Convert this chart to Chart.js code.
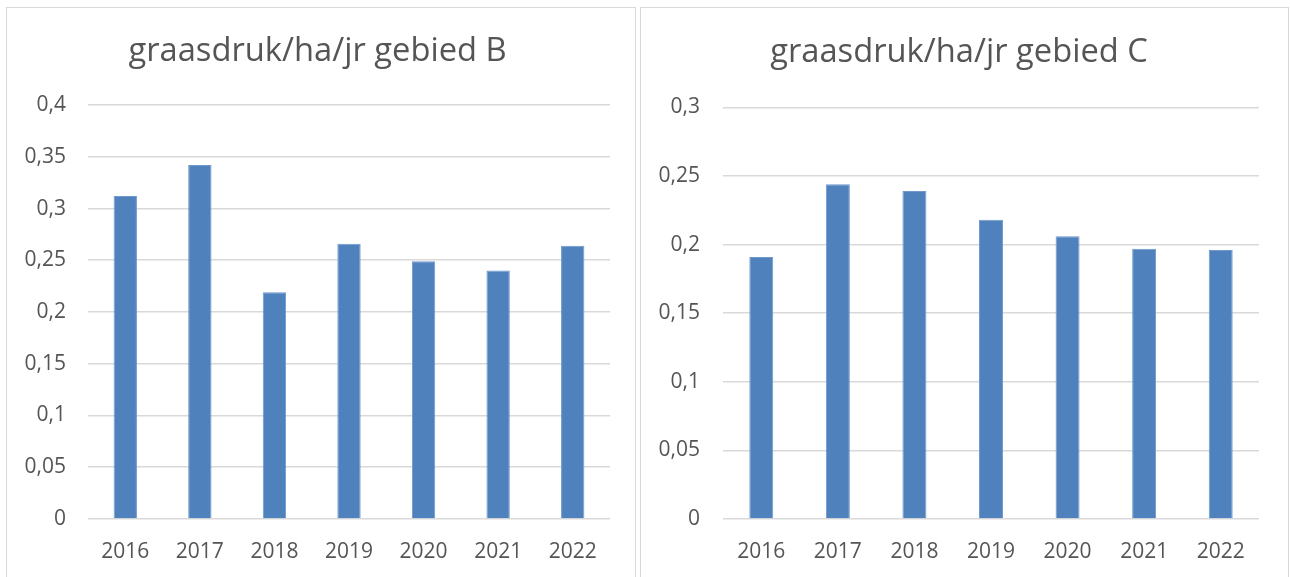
<!DOCTYPE html>
<html>
<head>
<meta charset="utf-8">
<script src="https://cdn.jsdelivr.net/npm/chart.js@4"></script>
<style>
  html, body { margin: 0; padding: 0; background: #ffffff; }
  body { width: 1290px; height: 577px; position: relative; overflow: hidden; }
  .frame { position: absolute; border: 1px solid #d9d9d9; background: #fff; box-sizing: border-box; }
  #fB { left: 6px; top: 7px; width: 630px; height: 580px; }
  #fC { left: 640px; top: 7px; width: 649px; height: 580px; }
  canvas { position: absolute; left: 0; top: 0; }
</style>
</head>
<body>
<div class="frame" id="fB"><canvas id="cB" width="628" height="570"></canvas></div>
<div class="frame" id="fC"><canvas id="cC" width="647" height="570"></canvas></div>
<script>
const years = ["2016", "2017", "2018", "2019", "2020", "2021", "2022"];
const valuesB = [0.312, 0.342, 0.219, 0.266, 0.249, 0.240, 0.264];
const valuesC = [0.191, 0.244, 0.239, 0.218, 0.206, 0.197, 0.196];
const titleB = "graasdruk/ha/jr gebied B";
const titleC = "graasdruk/ha/jr gebied C";
const maxB = 0.4, maxC = 0.3, stepVal = 0.05;

const FONT = "'Open Sans', 'Noto Sans', sans-serif";
const TXT = "#555555";
const BAR = "#4f81bd";
const GRID = "#d9d9d9";

function fmt(v) {
  const r = Math.round(v * 100) / 100;
  return String(r).replace(".", ",");
}

function makeChart(id, labels, values, title, maxV, cfg) {
  return new Chart(document.getElementById(id), {
    type: "bar",
    data: {
      labels: labels,
      datasets: [{
        data: values,
        backgroundColor: BAR,
        borderColor: "#6f98cc",
        borderWidth: 1,
        borderSkipped: "bottom",
        categoryPercentage: 1,
        barPercentage: 0.313
      }]
    },
    options: {
      responsive: false,
      animation: false,
      layout: { padding: cfg.pad, autoPadding: false },
      plugins: {
        legend: { display: false },
        tooltip: { enabled: false },
        title: {
          display: true,
          text: title,
          color: TXT,
          font: { family: FONT, size: 32.7, weight: "normal" },
          padding: cfg.titlePad
        }
      },
      scales: {
        x: {
          grid: { display: false, drawTicks: false },
          border: { display: false },
          ticks: { color: TXT, font: { family: FONT, size: 21 }, padding: 20, maxRotation: 0 },
          afterFit: (s) => { s.height = 45; }
        },
        y: {
          min: 0,
          max: maxV,
          grid: { color: GRID, lineWidth: 1.6, drawTicks: false },
          border: { display: false },
          ticks: {
            stepSize: stepVal,
            color: TXT,
            font: { family: FONT, size: 21 },
            padding: cfg.yTickPad,
            callback: (v) => fmt(v)
          },
          afterFit: (s) => { s.width = cfg.yWidth; }
        }
      }
    }
  });
}

makeChart("cB", years, valuesB, titleB, maxB, {
  pad: { left: 18, right: 25, top: 0, bottom: 14 },
  titlePad: { top: 23.6, bottom: 34.2 },
  yTickPad: 22, yWidth: 63
});
makeChart("cC", years, valuesC, titleC, maxC, {
  pad: { left: 18, right: 29, top: 0, bottom: 14 },
  titlePad: { top: 25.1, bottom: 35.0 },
  yTickPad: 23, yWidth: 64
});
</script>
</body>
</html>
